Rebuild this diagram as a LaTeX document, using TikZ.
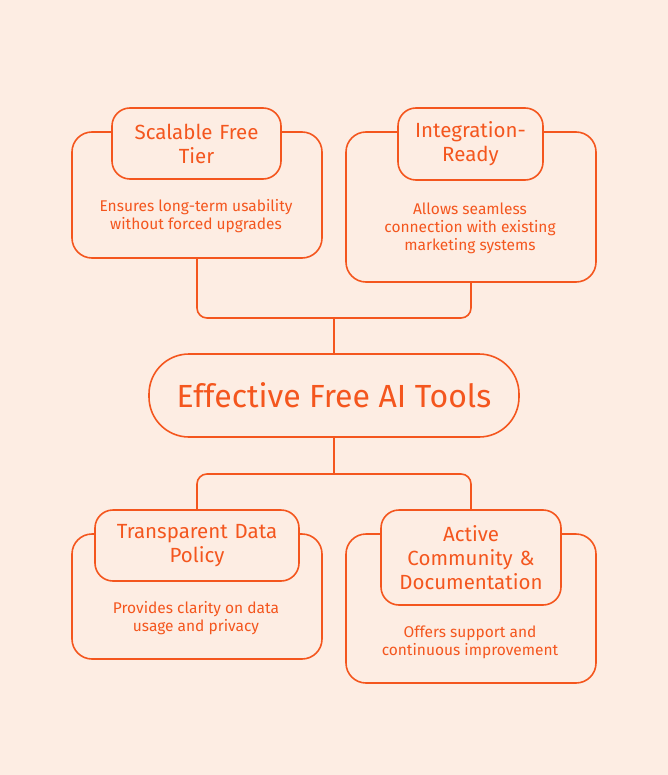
\documentclass[tikz,border=0pt]{standalone}
\usepackage{fontspec}
\setmainfont{Fira Sans}
\definecolor{bg}{HTML}{FDEDE3}
\definecolor{or}{HTML}{F4561E}
\begin{document}
\begin{tikzpicture}[x=1pt,y=-1pt,
  line width=1.6pt,
  outer/.style={draw=or,fill=bg,rounded corners=20pt},
  ttl/.style={draw=or,fill=bg,rounded corners=18pt,text=or,font=\fontsize{20.5}{24}\selectfont,align=center},
  dsc/.style={text=or,font=\fontsize{15.5}{18}\selectfont,align=center},
  conn/.style={draw=or,rounded corners=10pt}]
\fill[bg] (0,0) rectangle (668,775);
\useasboundingbox (0,0) rectangle (668,775);
% connectors
\coordinate (tl) at (197,258);
\coordinate (tr) at (471,282);
\coordinate (bl) at (197,510);
\coordinate (br) at (471,510);
\node[draw=or,fill=bg,rounded corners=40pt,minimum width=370pt,minimum height=83pt,text=or,font=\fontsize{32}{36}\selectfont] (c) at (334,395.5) {Effective Free AI Tools};
\draw[conn] (tl) -- (197,318) -- (471,318) -- (tr);
\draw[draw=or] (c.north) -- (334,318);
\draw[conn] (bl) -- (197,474) -- (471,474) -- (br);
\draw[draw=or] (c.south) -- (334,474);
% boxes
\draw[outer] (72,132) rectangle (322,258);
\draw[outer] (346,132) rectangle (596,282);
\draw[outer] (72,534) rectangle (322,659);
\draw[outer] (346,534) rectangle (596,683);
\node[ttl,minimum width=169pt,minimum height=71pt,text width=160pt] (t1) at (196.5,143.5) {Scalable Free\\Tier};
\node[ttl,minimum width=145pt,minimum height=72pt,text width=136pt] (t2) at (470.5,144) {Integration-\\Ready};
\node[ttl,minimum width=204pt,minimum height=71pt,text width=195pt] (t3) at (197,545.5) {Transparent Data\\Policy};
\node[ttl,minimum width=180pt,minimum height=95pt,text width=171pt] (t4) at (471,557.5) {Active\\Community \&\\Documentation};
\node[dsc] (d1) at (196,216) {Ensures long-term usability\\without forced upgrades};
\node[dsc] (d2) at (470,228) {Allows seamless\\connection with existing\\marketing systems};
\node[dsc] (d3) at (196,618) {Provides clarity on data\\usage and privacy};
\node[dsc] (d4) at (470,642) {Offers support and\\continuous improvement};
\end{tikzpicture}
\end{document}
